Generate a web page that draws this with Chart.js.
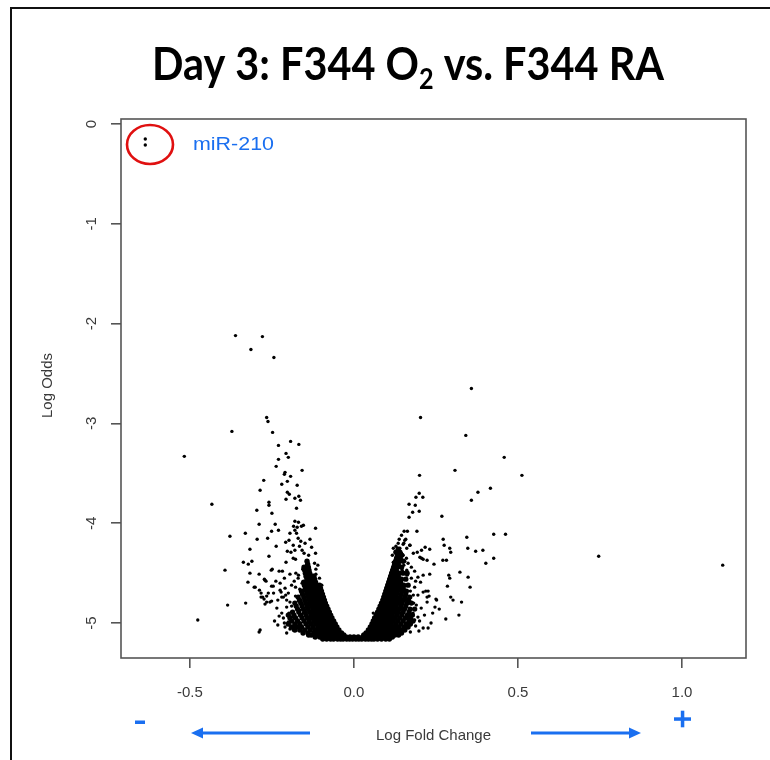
<!DOCTYPE html>
<html><head><meta charset="utf-8">
<script src="https://cdn.jsdelivr.net/npm/chart.js@4"></script>
<style>html,body{margin:0;padding:0;background:#fff}#wrap{position:relative;width:770px;height:760px}</style>
</head><body><div id="wrap"><canvas id="c" width="770" height="760"></canvas></div>
<script>
// ---------- DATA ----------
const titleMain = "Day 3: F344 O";
const titleSub = "2";
const titleTail = " vs. F344 RA";
const xTitle = "Log Fold Change";
const yTitle = "Log Odds";
const xTicks = [-0.5, 0.0, 0.5, 1.0];
const yTicks = [0, -1, -2, -3, -4, -5];
const highlightLabel = "miR-210";

// miR-210 (circled)
const mir210 = [[-0.636, -0.15], [-0.636, -0.21]];

// sparse points, left arm
const leftArm = [
[-0.361,-2.12],[-0.279,-2.13],[-0.314,-2.26],[-0.244,-2.34],
[-0.266,-2.94],[-0.262,-2.98],[-0.372,-3.08],[-0.248,-3.09],[-0.193,-3.18],[-0.168,-3.21],[-0.230,-3.22],[-0.207,-3.30],[-0.200,-3.34],[-0.230,-3.36],[-0.517,-3.33],[-0.237,-3.43],[-0.210,-3.49],[-0.212,-3.51],[-0.193,-3.53],[-0.158,-3.47],[-0.275,-3.57],[-0.220,-3.61],[-0.203,-3.58],[-0.173,-3.62],[-0.286,-3.67],[-0.203,-3.69],[-0.197,-3.71],[-0.168,-3.73],[-0.180,-3.75],[-0.207,-3.76],[-0.163,-3.77],
[-0.433,-3.81],[-0.259,-3.79],[-0.259,-3.82],[-0.296,-3.87],[-0.250,-3.90],[-0.175,-3.85],[-0.289,-4.01],[-0.180,-3.98],[-0.169,-3.99],[-0.184,-4.03],[-0.173,-4.04],[-0.160,-4.03],[-0.154,-4.02],[-0.175,-4.10],[-0.180,-4.07],[-0.240,-4.01],[-0.230,-4.07],[-0.251,-4.08],[-0.117,-4.05],[-0.378,-4.13],[-0.331,-4.10],[-0.295,-4.16],[-0.263,-4.15],
[-0.195,-4.10],[-0.208,-4.19],[-0.198,-4.17],[-0.170,-4.15],[-0.162,-4.18],[-0.149,-4.20],[-0.134,-4.16],[-0.185,-4.22],[-0.166,-4.23],[-0.203,-4.28],[-0.192,-4.29],[-0.180,-4.27],[-0.158,-4.27],[-0.152,-4.30],[-0.129,-4.24],[-0.117,-4.30],[-0.138,-4.32],[-0.185,-4.35],[-0.178,-4.36],
[-0.237,-4.23],[-0.317,-4.26],[-0.259,-4.33],[-0.337,-4.39],[-0.322,-4.41],[-0.311,-4.38],[-0.207,-4.39],[-0.393,-4.47],[-0.317,-4.50],[-0.249,-4.46],[-0.228,-4.48],[-0.218,-4.48],[-0.289,-4.51],[-0.195,-4.51],[-0.177,-4.50],[-0.169,-4.52],[-0.156,-4.46],[-0.136,-4.47],[-0.116,-4.46],[-0.116,-4.51],
[-0.273,-4.56],[-0.268,-4.58],[-0.323,-4.59],[-0.304,-4.64],[-0.288,-4.67],[-0.283,-4.70],[-0.266,-4.73],[-0.278,-4.74],[-0.271,-4.81],[-0.266,-4.79],[-0.286,-5.07],[-0.289,-5.09],[-0.251,-4.63],[-0.225,-4.67],[-0.222,-4.69],[-0.210,-4.65],[-0.215,-4.74],[-0.208,-4.72],[-0.330,-4.80],[-0.385,-4.82],[-0.476,-4.97],[-0.256,-4.79],
[-0.271,-4.57],[-0.252,-4.47],[-0.301,-4.64],[-0.251,-4.78],[-0.283,-4.74],[-0.274,-4.76],[-0.261,-4.70],[-0.246,-4.63],[-0.220,-4.74],[-0.205,-4.77],[-0.195,-4.79],[-0.220,-4.90],[-0.215,-4.95],[-0.200,-4.99],[-0.210,-5.04],[-0.185,-4.94],[-0.175,-4.85],[-0.164,-4.87],[-0.154,-4.90],[-0.144,-4.95],[-0.139,-5.00],[-0.124,-5.05],[-0.113,-5.10],[-0.205,-5.10],[-0.185,-5.07],[-0.164,-5.00],
[-0.235,-4.85],[-0.228,-4.93],[-0.242,-4.98],[-0.232,-5.02],[-0.190,-4.62],[-0.182,-4.58],[-0.200,-4.70],[-0.190,-4.83],[-0.178,-4.73],[-0.165,-4.66],[-0.158,-4.60],[-0.170,-4.55],[-0.145,-4.55],[-0.140,-4.62],[-0.130,-4.58],[-0.126,-4.52],[-0.120,-4.40],[-0.110,-4.42],[-0.105,-4.55],[-0.098,-4.62],
[-0.245,-4.70],[-0.238,-4.58],[-0.232,-4.77],[-0.225,-4.60],[-0.212,-4.55],[-0.205,-4.84],[-0.198,-4.90],[-0.212,-5.00],[-0.195,-5.06],[-0.178,-4.64],[-0.168,-4.78]
];

// sparse points, right arm
const rightArm = [
[0.358,-2.65],[0.203,-2.94],[0.341,-3.12],[0.458,-3.34],[0.512,-3.52],[0.308,-3.47],[0.200,-3.52],[0.416,-3.65],[0.378,-3.69],[0.358,-3.77],[0.199,-3.70],[0.189,-3.74],[0.210,-3.74],[0.168,-3.81],[0.187,-3.82],[0.199,-3.88],[0.179,-3.89],[0.168,-3.94],[0.268,-3.93],
[0.192,-4.08],[0.153,-4.08],[0.163,-4.08],[0.145,-4.12],[0.138,-4.16],[0.158,-4.16],[0.152,-4.20],[0.171,-4.22],[0.128,-4.23],[0.140,-4.25],[0.217,-4.24],[0.272,-4.16],[0.275,-4.22],[0.292,-4.25],[0.344,-4.14],[0.347,-4.25],
[0.426,-4.11],[0.462,-4.11],[0.295,-4.29],[0.371,-4.28],[0.393,-4.27],[0.426,-4.35],[0.402,-4.40],[0.231,-4.26],[0.206,-4.27],[0.206,-4.35],[0.211,-4.36],[0.223,-4.37],[0.244,-4.41],[0.271,-4.37],[0.282,-4.37],[0.746,-4.33],[1.124,-4.42],
[0.211,-4.52],[0.231,-4.51],[0.289,-4.52],[0.292,-4.55],[0.323,-4.49],[0.348,-4.54],[0.354,-4.64],[0.285,-4.63],[0.295,-4.74],[0.219,-4.68],[0.229,-4.73],[0.203,-4.59],[0.223,-4.74],[0.250,-4.76],
[0.155,-4.17],[0.135,-4.20],[0.150,-4.21],[0.161,-4.25],[0.170,-4.22],[0.120,-4.25],[0.135,-4.28],[0.145,-4.30],[0.117,-4.32],[0.150,-4.32],[0.181,-4.30],[0.193,-4.29],[0.201,-4.34],[0.120,-4.39],[0.135,-4.40],[0.125,-4.44],[0.140,-4.44],[0.152,-4.42],[0.165,-4.40],[0.175,-4.44],[0.161,-4.47],[0.147,-4.47],[0.130,-4.50],[0.114,-4.49],
[0.302,-4.77],[0.328,-4.79],[0.320,-4.92],[0.280,-4.96],[0.252,-4.77],[0.247,-4.84],[0.226,-4.68],[0.223,-4.79],[0.195,-4.54],[0.185,-4.64],[0.195,-4.72],[0.181,-4.72],[0.211,-4.69],[0.211,-5.05],[0.226,-5.05],[0.185,-4.97],[0.195,-4.94],[0.175,-5.00],[0.161,-5.02],[0.150,-4.97],[0.140,-4.90],[0.059,-4.90],
[0.240,-4.90],[0.260,-4.86],[0.235,-5.00],[0.205,-4.85],[0.215,-4.92],[0.190,-4.82],[0.170,-4.78],[0.180,-4.90],[0.165,-4.62],[0.175,-4.55],[0.185,-4.48],[0.160,-4.35],[0.130,-4.33],[0.198,-5.08],[0.172,-5.09],
[0.188,-4.58],[0.172,-4.68],[0.182,-4.80],[0.200,-4.98],[0.188,-5.03],[0.162,-4.52],[0.155,-4.38]
];

// dense core of the volcano: [logOdds, [logFC values ...]]
const coreRows = [
[-5.16, [-0.095,-0.083,-0.071,-0.062,-0.050,-0.041,-0.033,-0.022,-0.013,-0.004,0.006,0.015,0.024,0.035,0.044,0.053,0.061,0.072,0.084,0.097,0.108]],
[-5.14, [-0.118,-0.104,-0.092,-0.080,-0.068,-0.057,-0.046,-0.035,-0.024,-0.012,0.000,0.013,0.027,0.036,0.047,0.058,0.067,0.079,0.091,0.103,0.117]],
[-5.12, [-0.138,-0.130,-0.115,-0.100,-0.088,-0.075,-0.064,-0.053,-0.042,-0.031,0.030,0.041,0.052,0.063,0.075,0.086,0.099,0.112,0.125,0.136]],
[-5.10, [-0.155,-0.140,-0.122,-0.108,-0.095,-0.082,-0.070,-0.059,-0.048,-0.038,0.037,0.047,0.057,0.068,0.080,0.092,0.105,0.118,0.132,0.145]],
[-5.07, [-0.180,-0.165,-0.150,-0.133,-0.117,-0.103,-0.090,-0.078,-0.066,-0.056,-0.046,0.044,0.053,0.064,0.076,0.088,0.100,0.113,0.127,0.142,0.155]],
[-5.04, [-0.190,-0.175,-0.160,-0.140,-0.125,-0.110,-0.097,-0.085,-0.073,-0.062,-0.052,0.050,0.060,0.071,0.083,0.095,0.108,0.121,0.136,0.152,0.165]],
[-5.01, [-0.200,-0.180,-0.165,-0.146,-0.130,-0.116,-0.103,-0.090,-0.079,-0.067,-0.057,0.055,0.066,0.077,0.089,0.101,0.114,0.128,0.143,0.160,0.172]],
[-4.98, [-0.190,-0.172,-0.152,-0.136,-0.121,-0.108,-0.095,-0.083,-0.072,-0.062,0.059,0.070,0.082,0.094,0.107,0.120,0.134,0.150,0.168,0.180]],
[-4.95, [-0.195,-0.178,-0.158,-0.141,-0.126,-0.112,-0.100,-0.088,-0.077,-0.067,0.063,0.075,0.087,0.099,0.112,0.126,0.140,0.157,0.172]],
[-4.92, [-0.200,-0.183,-0.163,-0.146,-0.131,-0.117,-0.104,-0.092,-0.081,-0.071,0.068,0.079,0.091,0.104,0.117,0.131,0.146,0.163,0.178]],
[-4.89, [-0.187,-0.168,-0.150,-0.135,-0.121,-0.108,-0.096,-0.085,-0.075,0.072,0.083,0.095,0.108,0.121,0.135,0.150,0.168]],
[-4.86, [-0.172,-0.154,-0.139,-0.125,-0.112,-0.100,-0.089,-0.079,0.076,0.087,0.099,0.112,0.125,0.139,0.154,0.171,0.185]],
[-4.83, [-0.176,-0.158,-0.143,-0.129,-0.116,-0.104,-0.093,-0.083,0.080,0.091,0.103,0.116,0.129,0.143,0.158]],
[-4.80, [-0.180,-0.162,-0.147,-0.133,-0.120,-0.108,-0.097,-0.087,0.084,0.095,0.107,0.120,0.133,0.147,0.162,0.175]],
[-4.77, [-0.166,-0.150,-0.136,-0.123,-0.111,-0.100,-0.090,0.088,0.099,0.111,0.124,0.137,0.151,0.166]],
[-4.74, [-0.170,-0.153,-0.139,-0.126,-0.114,-0.103,-0.093,0.091,0.102,0.114,0.127,0.141,0.155,0.170]],
[-4.71, [-0.157,-0.142,-0.129,-0.117,-0.106,-0.096,0.094,0.105,0.117,0.130,0.144,0.158]],
[-4.68, [-0.160,-0.145,-0.132,-0.120,-0.109,-0.099,0.097,0.108,0.120,0.133,0.147,0.160]],
[-4.65, [-0.148,-0.135,-0.123,-0.112,-0.102,0.100,0.111,0.123,0.136,0.150]],
[-4.62, [-0.151,-0.138,-0.126,-0.115,-0.105,0.103,0.114,0.126,0.139,0.152,0.165]],
[-4.59, [-0.153,-0.140,-0.128,-0.117,0.106,0.117,0.129,0.142]],
[-4.56, [-0.143,-0.131,-0.120,0.109,0.120,0.132,0.145,0.158]],
[-4.53, [-0.146,-0.133,-0.122,0.112,0.123,0.135]],
[-4.50, [-0.148,-0.135,0.115,0.126,0.138,0.150,0.162]],
[-4.47, [-0.150,-0.137,0.118,0.129]],
[-4.44, [-0.152,-0.139,0.121,0.132,0.145]],
[-4.41, [-0.141,0.124,0.135]],
[-4.38, [-0.143,0.127,0.138,0.150]],
[-4.35, [0.130,0.141]],
[-4.32, [0.133,0.145]],
[-4.29, [0.128,0.140]],
[-4.26, [0.135]]
];

// ---------- BUILD ----------
const sparsePts = [];
[mir210, leftArm, rightArm].forEach(a => a.forEach(p => sparsePts.push({x: p[0], y: p[1]})));
const corePts = [];
coreRows.forEach(r => r[1].forEach(x => corePts.push({x: x, y: r[0]})));

const BLUE = '#1a6ff0';
const TXT = '#3a3a3a';

const decor = {
  id: 'decor',
  afterDraw(chart) {
    const ctx = chart.ctx;
    const ca = chart.chartArea;
    const ys = chart.scales.y;
    ctx.save();
    // outer frame
    ctx.strokeStyle = '#111'; ctx.lineWidth = 2;
    ctx.beginPath(); ctx.moveTo(11, 760); ctx.lineTo(11, 8); ctx.lineTo(770, 8); ctx.stroke();
    // plot box
    ctx.strokeStyle = '#555'; ctx.lineWidth = 1.6;
    ctx.strokeRect(ca.left, ca.top, ca.right - ca.left, ca.bottom - ca.top);
    // y tick labels (rotated, R style)
    ctx.fillStyle = TXT; ctx.font = '15px "Liberation Sans", Arial, sans-serif';
    ctx.textAlign = 'center'; ctx.textBaseline = 'middle';
    ys.ticks.forEach(t => {
      const py = ys.getPixelForValue(t.value);
      ctx.save(); ctx.translate(ca.left - 29, py); ctx.rotate(-Math.PI / 2);
      ctx.fillText(String(t.value), 0, 0); ctx.restore();
    });
    // y title
    ctx.save(); ctx.translate(48, (ca.top + ca.bottom) / 2 - 3); ctx.rotate(-Math.PI / 2);
    ctx.fillText(yTitle, 0, 0); ctx.restore();
    // x title
    ctx.fillText(xTitle, (ca.left + ca.right) / 2, 736);
    // title
    ctx.fillStyle = '#000';
    const f1 = 'bold 46px Lato, "DejaVu Sans", sans-serif';
    const f2 = 'bold 28px Lato, "DejaVu Sans", sans-serif';
    ctx.font = f1; const w1 = ctx.measureText(titleMain).width; const w3 = ctx.measureText(titleTail).width;
    ctx.font = f2; const w2 = ctx.measureText(titleSub).width;
    const total = w1 + w2 + w3; const target = 512; const sx = target / total;
    ctx.save(); ctx.translate(408 - target / 2, 80); ctx.scale(sx, 1);
    ctx.textAlign = 'left'; ctx.textBaseline = 'alphabetic';
    ctx.font = f1; ctx.fillText(titleMain, 0, 0);
    ctx.font = f2; ctx.fillText(titleSub, w1, 9);
    ctx.font = f1; ctx.fillText(titleTail, w1 + w2, 0);
    ctx.restore();
    // highlight ellipse + label
    ctx.strokeStyle = '#e01010'; ctx.lineWidth = 2.6;
    ctx.beginPath(); ctx.ellipse(150, 144.5, 23, 19.5, 0, 0, Math.PI * 2); ctx.stroke();
    ctx.fillStyle = BLUE; ctx.font = '19px "Liberation Sans", Arial, sans-serif';
    ctx.textAlign = 'left'; ctx.textBaseline = 'alphabetic';
    const wl = ctx.measureText(highlightLabel).width;
    ctx.save(); ctx.translate(193, 150); ctx.scale(81 / wl, 1); ctx.fillText(highlightLabel, 0, 0); ctx.restore();
    // direction arrows and signs
    ctx.fillStyle = BLUE; ctx.strokeStyle = BLUE; ctx.lineWidth = 3;
    ctx.beginPath(); ctx.moveTo(310, 733); ctx.lineTo(200, 733); ctx.stroke();
    ctx.beginPath(); ctx.moveTo(191, 733); ctx.lineTo(203, 727.5); ctx.lineTo(203, 738.5); ctx.closePath(); ctx.fill();
    ctx.beginPath(); ctx.moveTo(531, 733); ctx.lineTo(631, 733); ctx.stroke();
    ctx.beginPath(); ctx.moveTo(641, 733); ctx.lineTo(629, 727.5); ctx.lineTo(629, 738.5); ctx.closePath(); ctx.fill();
    ctx.fillRect(135, 720.5, 10, 3.5);
    ctx.fillRect(674, 717.3, 17, 3.5);
    ctx.fillRect(680.8, 710.7, 3.5, 16.6);
    ctx.restore();
  }
};

new Chart(document.getElementById('c'), {
  type: 'scatter',
  data: { datasets: [
    { data: sparsePts, backgroundColor: '#000', borderColor: '#000', pointRadius: 1.7, pointBorderWidth: 0, pointHoverRadius: 1.7 },
    { data: corePts, backgroundColor: '#000', borderColor: '#000', pointRadius: 2.7, pointBorderWidth: 0, pointHoverRadius: 2.7 }
  ] },
  options: {
    responsive: false, animation: false, events: [],
    layout: { padding: { left: 0, right: 24, top: 119, bottom: 0 } },
    plugins: { legend: { display: false }, tooltip: { enabled: false }, title: { display: false } },
    scales: {
      x: {
        type: 'linear', min: -0.710, max: 1.195,
        afterBuildTicks: s => { s.ticks = xTicks.map(v => ({ value: v })); },
        afterFit: s => { s.height = 102; },
        border: { display: false },
        grid: { display: true, drawOnChartArea: false, drawTicks: true, tickLength: 10, color: '#555', lineWidth: 1.6 },
        ticks: { autoSkip: false, maxRotation: 0, padding: 16, color: TXT, font: { family: '"Liberation Sans", Arial, sans-serif', size: 15 }, callback: v => Number(v).toFixed(1) }
      },
      y: {
        type: 'linear', min: -5.35, max: 0.05,
        afterBuildTicks: s => { s.ticks = yTicks.map(v => ({ value: v })); },
        afterFit: s => { s.width = 121; },
        border: { display: false },
        grid: { display: true, drawOnChartArea: false, drawTicks: true, tickLength: 10, color: '#555', lineWidth: 1.6 },
        ticks: { display: false }
      }
    }
  },
  plugins: [decor]
});
</script>
</body></html>
